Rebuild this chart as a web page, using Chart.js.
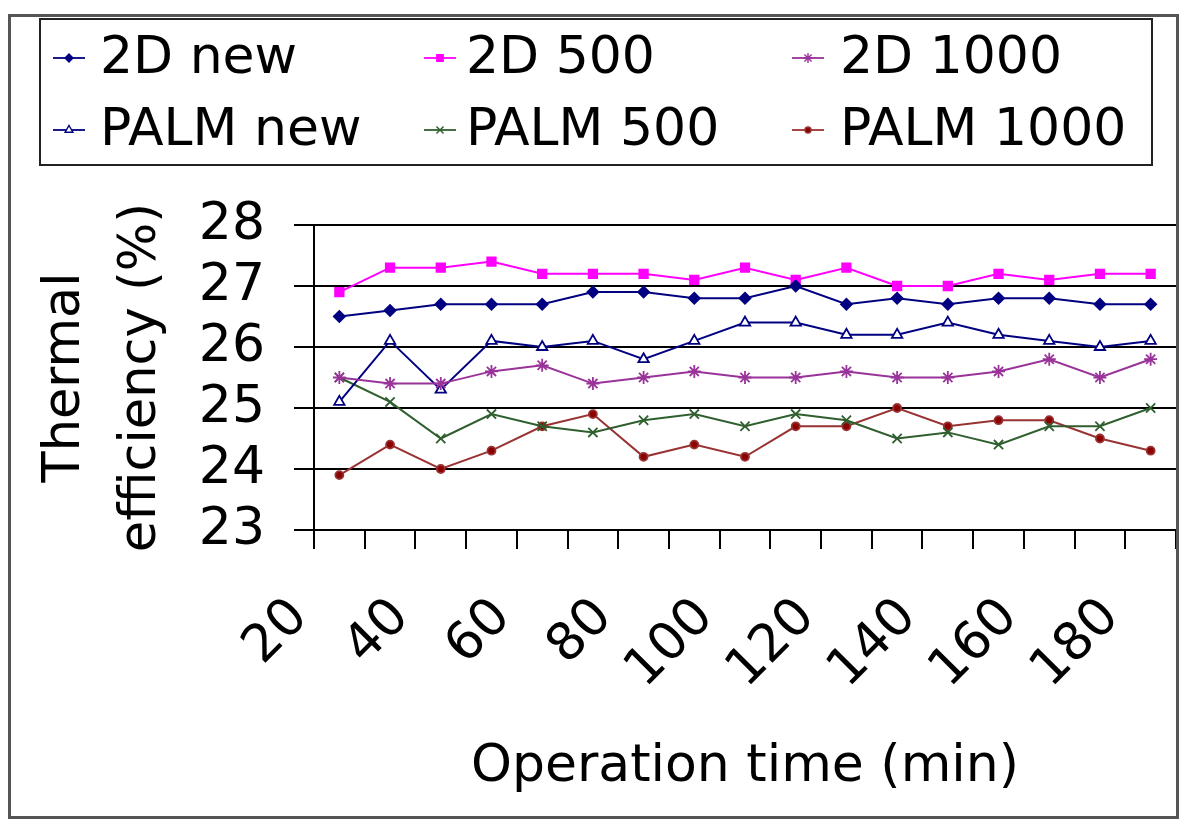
<!DOCTYPE html>
<html>
<head>
<meta charset="utf-8">
<script src="https://cdn.jsdelivr.net/npm/chart.js@4.4.0/dist/chart.umd.min.js"></script>
<style>
  html, body { margin: 0; padding: 0; background: #fff; }
  #wrap { width: 1185px; height: 823px; }
</style>
</head>
<body>
<div id="wrap"><canvas id="c" width="1185" height="823"></canvas></div>
<script>
// Sampling points: middle of each 10-minute interval (min)
const binMidTimes = [25, 35, 45, 55, 65, 75, 85, 95, 105, 115, 125, 135, 145, 155, 165, 175, 185];
// Labelled x ticks (min)
const xTickLabels = [20, 40, 60, 80, 100, 120, 140, 160, 180];

// Thermal efficiency (%) for each run
const eff2DNew    = [26.5, 26.6, 26.7, 26.7, 26.7, 26.9, 26.9, 26.8, 26.8, 27.0, 26.7, 26.8, 26.7, 26.8, 26.8, 26.7, 26.7];
const eff2D500    = [26.9, 27.3, 27.3, 27.4, 27.2, 27.2, 27.2, 27.1, 27.3, 27.1, 27.3, 27.0, 27.0, 27.2, 27.1, 27.2, 27.2];
const eff2D1000   = [25.5, 25.4, 25.4, 25.6, 25.7, 25.4, 25.5, 25.6, 25.5, 25.5, 25.6, 25.5, 25.5, 25.6, 25.8, 25.5, 25.8];
const effPalmNew  = [25.1, 26.1, 25.3, 26.1, 26.0, 26.1, 25.8, 26.1, 26.4, 26.4, 26.2, 26.2, 26.4, 26.2, 26.1, 26.0, 26.1];
const effPalm500  = [25.5, 25.1, 24.5, 24.9, 24.7, 24.6, 24.8, 24.9, 24.7, 24.9, 24.8, 24.5, 24.6, 24.4, 24.7, 24.7, 25.0];
const effPalm1000 = [23.9, 24.4, 24.0, 24.3, 24.7, 24.9, 24.2, 24.4, 24.2, 24.7, 24.7, 25.0, 24.7, 24.8, 24.8, 24.5, 24.3];

const seriesNames = ['2D new', '2D 500', '2D 1000', 'PALM new', 'PALM 500', 'PALM 1000'];

const FONT = '"DejaVu Sans", Verdana, sans-serif';

const toPoints = (vals) => vals.map((v, i) => ({ x: binMidTimes[i], y: v }));

function series(label, vals, color, style, radius, fill) {
  return {
    label,
    data: toPoints(vals),
    borderColor: color,
    borderWidth: 2,
    pointStyle: style,
    pointRadius: radius,
    pointHoverRadius: radius,
    pointBackgroundColor: fill,
    pointBorderColor: color,
    pointBorderWidth: 1.8,
    tension: 0,
    fill: false
  };
}

const datasets = [
  series(seriesNames[0], eff2DNew,    '#000080', 'rectRot',  5.5, '#000080'),
  series(seriesNames[1], eff2D500,    '#FF00FF', 'rect',     6,   '#FF00FF'),
  series(seriesNames[2], eff2D1000,   '#993399', 'star',     6.5, '#993399'),
  series(seriesNames[3], effPalmNew,  '#000080', 'triangle', 6,   '#FFFFFF'),
  series(seriesNames[4], effPalm500,  '#2F5F2F', 'crossRot', 6.5, '#2F5F2F'),
  series(seriesNames[5], effPalm1000, '#993333', 'circle',   4,   '#8B0000')
];

// Boxed three-column legend and the outer frame
const legendGrid = {
  id: 'legendGrid',
  beforeDraw(chart) {
    const ctx = chart.ctx;
    ctx.save();
    ctx.fillStyle = '#fff';
    ctx.fillRect(0, 0, chart.width, chart.height);
    ctx.restore();
  },
  afterDraw(chart) {
    const ctx = chart.ctx;
    ctx.save();
    // outer frame
    ctx.strokeStyle = '#555';
    ctx.lineWidth = 3;
    ctx.strokeRect(9.5, 15.5, 1168, 802);
    // legend box
    ctx.strokeStyle = '#222';
    ctx.lineWidth = 2;
    ctx.strokeRect(40, 19, 1112, 146);

    const markX = [69, 440, 808];
    const textX = [100, 466, 840];
    const rowY = [58, 130];
    ctx.font = '52px ' + FONT;
    ctx.textBaseline = 'middle';
    ctx.textAlign = 'left';
    chart.data.datasets.forEach((ds, i) => {
      const col = i % 3, row = Math.floor(i / 3);
      const mx = markX[col], y = rowY[row];
      ctx.strokeStyle = ds.borderColor;
      ctx.lineWidth = 1.8;
      ctx.beginPath();
      ctx.moveTo(mx - 16, y);
      ctx.lineTo(mx + 16, y);
      ctx.stroke();
      ctx.fillStyle = ds.pointBackgroundColor;
      ctx.strokeStyle = ds.pointBorderColor;
      ctx.lineWidth = 1.4;
      Chart.helpers.drawPoint(ctx, {
        pointStyle: ds.pointStyle,
        rotation: 0,
        radius: Math.max(3, ds.pointRadius - 1.5),
        borderWidth: 1.4
      }, mx, y);
      ctx.fillStyle = '#000';
      ctx.fillText(ds.label, textX[col], y + 1);
    });
    ctx.restore();
  }
};

new Chart(document.getElementById('c'), {
  type: 'line',
  data: { datasets },
  plugins: [legendGrid],
  options: {
    responsive: false,
    animation: false,
    devicePixelRatio: 1,
    layout: { padding: { top: 225, right: 9, left: 0, bottom: 0 } },
    plugins: {
      legend: { display: false },
      tooltip: { enabled: false }
    },
    scales: {
      x: {
        type: 'linear',
        min: 20,
        max: 190,
        afterFit(scale) {
          scale.height = 293;
          scale.paddingLeft = 0;
          scale.paddingRight = 0;
        },
        ticks: {
          stepSize: 10,
          autoSkip: false,
          minRotation: 45,
          maxRotation: 45,
          padding: 38,
          labelOffset: -14,
          color: '#000',
          font: { family: FONT, size: 52 },
          callback: (v) => xTickLabels.includes(v) ? String(v) : ''
        },
        grid: {
          drawOnChartArea: false,
          drawTicks: true,
          tickLength: 19,
          color: '#000',
          lineWidth: 2
        },
        border: { display: true, color: '#000', width: 2 },
        title: {
          display: true,
          text: 'Operation time (min)',
          color: '#000',
          font: { family: FONT, size: 52 },
          padding: { top: 0, bottom: 24 }
        }
      },
      y: {
        min: 23,
        max: 28,
        afterFit(scale) {
          scale.width = 314;
        },
        ticks: {
          stepSize: 1,
          autoSkip: false,
          padding: 29,
          color: '#000',
          font: { family: FONT, size: 52 }
        },
        grid: {
          color: '#000',
          lineWidth: 2,
          tickLength: 20
        },
        border: { display: true, color: '#000', width: 2 },
        title: {
          display: true,
          text: ['Thermal', 'efficiency (%)'],
          color: '#000',
          font: { family: FONT, size: 51, lineHeight: 1.5 },
          padding: { top: 27, bottom: 0 }
        }
      }
    }
  }
});
</script>
</body>
</html>
